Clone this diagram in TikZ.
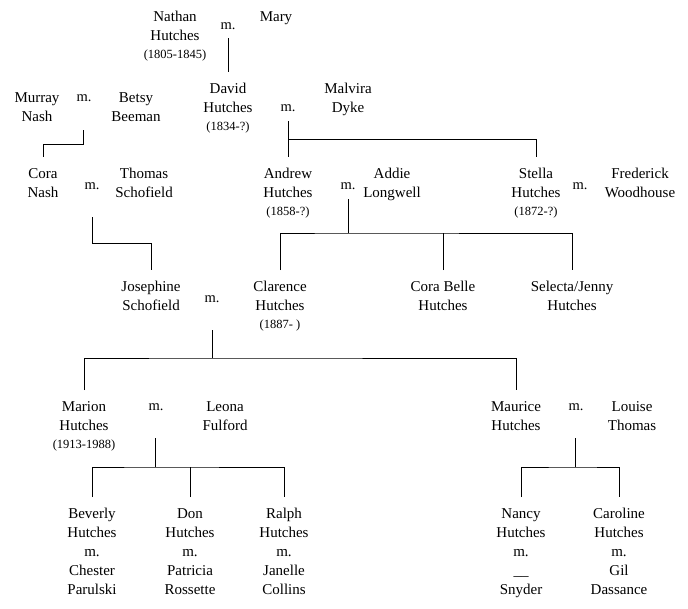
\documentclass[tikz,border=0pt]{standalone}
\usepackage{fontspec}
\setmainfont{Liberation Serif}
\newcommand\pnfont{\fontsize{15}{19}\selectfont}
\newcommand\dtfont{\fontsize{12.5}{15}\selectfont}
\begin{document}
\begin{tikzpicture}[x=1pt,y=-1pt,
  person/.style={align=center,inner sep=0pt,anchor=north,font=\pnfont},
  wed/.style={inner sep=0pt,font=\fontsize{14.5}{19}\selectfont},
  link/.style={draw=black,line width=0.9pt},
  top/.style={yshift=11pt}]
\useasboundingbox (0,0) rectangle (688,608);
% generation 1
\node[person] (nathan) at (175,11) {Nathan\\Hutches\\[-1pt]{\dtfont(1805-1845)}};
\node[wed] (ma) at (228,26) {m.};
\node[person] (mary) at (276,11) {Mary};
% generation 2
\node[person] (murray) at (37,92) {Murray\\Nash};
\node[wed] (mb) at (84,98) {m.};
\node[person] (betsy) at (136,92) {Betsy\\Beeman};
\node[person] (david) at (228,83) {David\\Hutches\\[-1pt]{\dtfont(1834-?)}};
\node[wed] (mc) at (288,108) {m.};
\node[person] (malvira) at (348,83) {Malvira\\Dyke};
% generation 3
\node[person] (cora) at (43,168) {Cora\\Nash};
\node[wed] (md) at (92,186) {m.};
\node[person] (thomas) at (144,168) {Thomas\\Schofield};
\node[person] (andrew) at (288,168) {Andrew\\Hutches\\[-1pt]{\dtfont(1858-?)}};
\node[wed] (me) at (348,186) {m.};
\node[person] (addie) at (392,168) {Addie\\Longwell};
\node[person] (stella) at (536,168) {Stella\\Hutches\\[-1pt]{\dtfont(1872-?)}};
\node[wed] (mf) at (580,186) {m.};
\node[person] (frederick) at (640,168) {Frederick\\Woodhouse};
% generation 4
\node[person] (josephine) at (151,281) {Josephine\\Schofield};
\node[wed] (mg) at (212,299) {m.};
\node[person] (clarence) at (280,281) {Clarence\\Hutches\\[-1pt]{\dtfont(1887- )}};
\node[person] (corabelle) at (443,281) {Cora Belle\\Hutches};
\node[person] (selecta) at (572,281) {Selecta/Jenny\\Hutches};
% generation 5
\node[person] (marion) at (84,401) {Marion\\Hutches\\[-1pt]{\dtfont(1913-1988)}};
\node[wed] (mh) at (156,407) {m.};
\node[person] (leona) at (225,401) {Leona\\Fulford};
\node[person] (maurice) at (516,401) {Maurice\\Hutches};
\node[wed] (mi) at (576,407) {m.};
\node[person] (louise) at (632,401) {Louise\\Thomas};
% generation 6
\node[person] (beverly) at (92,508) {Beverly\\Hutches\\m.\\Chester\\Parulski};
\node[person] (don) at (190,508) {Don\\Hutches\\m.\\Patricia\\Rossette};
\node[person] (ralph) at (284,508) {Ralph\\Hutches\\m.\\Janelle\\Collins};
\node[person] (nancy) at (521,508) {Nancy\\Hutches\\m.\\\_\_\\Snyder};
\node[person] (caroline) at (619,508) {Caroline\\Hutches\\m.\\Gil\\Dassance};
% drop points and bars
\coordinate (fa) at (228,38);
\coordinate (fb) at (83,130);  \coordinate (bb) at (83,144);
\coordinate (fc) at (288,121); \coordinate (bc) at (288,139);
\coordinate (fd) at (92,217);  \coordinate (bd) at (92,243);
\coordinate (fe) at (348,199); \coordinate (be) at (348,233);
\coordinate (fg) at (212,330); \coordinate (bg) at (212,358);
\coordinate (fh) at (155,438); \coordinate (bh) at (155,467);
\coordinate (fi) at (575,438); \coordinate (bi) at (575,467);
% connectors
\draw[link] (fa) -- ([top]david.north);
\draw[link] (fb) -- (bb) -| ([top]cora.north);
\draw[link] (fc) -- ([top]andrew.north);
\draw[link] (bc) -| ([top]stella.north);
\draw[link] (fd) -- (bd) -| ([top]josephine.north);
\draw[link] (fe) -- (be);
\draw[link] ([top]clarence.north) |- (be) -| ([top]selecta.north);
\draw[link] ([top]corabelle.north) -- (corabelle.north |- be);
\draw[link] (fg) -- (bg);
\draw[link] ([top]marion.north) |- (bg) -| ([top]maurice.north);
\draw[link] (fh) -- (bh);
\draw[link] ([top]beverly.north) |- (bh) -| ([top]ralph.north);
\draw[link] ([top]don.north) -- (don.north |- bh);
\draw[link] (fi) -- (bi);
\draw[link] ([top]nancy.north) |- (bi) -| ([top]caroline.north);
\end{tikzpicture}
\end{document}
